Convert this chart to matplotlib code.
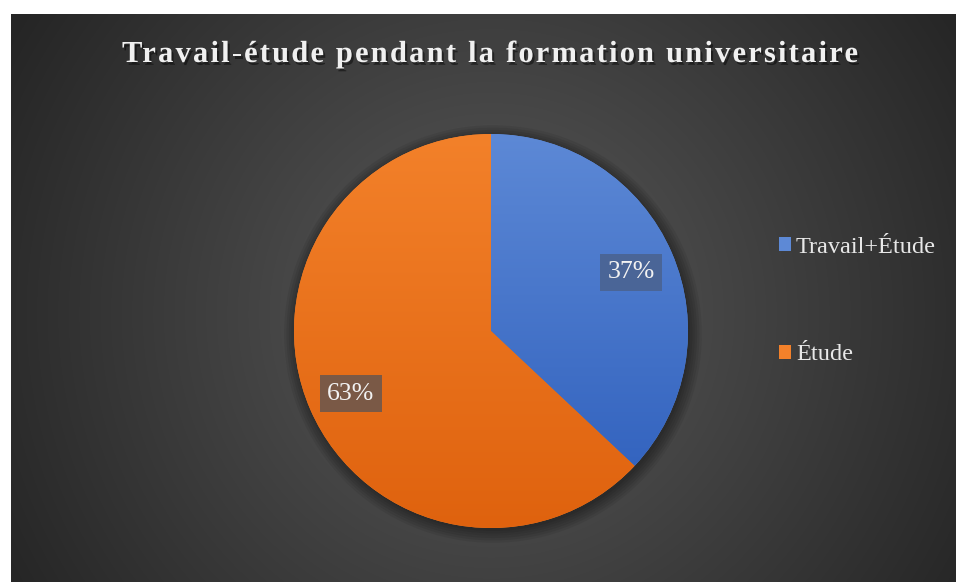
import numpy as np
import matplotlib
matplotlib.use("Agg")
import matplotlib.pyplot as plt
import matplotlib.patheffects as pe
from matplotlib.font_manager import FontProperties
from matplotlib.patches import Patch, Circle

title = "Travail-étude pendant la formation universitaire"
labels = ["Travail+Étude", "Étude"]
shares = [37, 63]
colors_top = ["#5d89d6", "#f3812a"]
colors_bot = ["#2c5dbb", "#df620e"]
box_colors = ["#4a6597", "#7a5946"]

W, H = 956, 582
fig = plt.figure(figsize=(W / 100, H / 100), dpi=100)
fig.patch.set_facecolor("white")

# dark radial background
bg = fig.add_axes([11 / W, 0, (W - 11) / W, (H - 14) / H])
bg.set_axis_off()
yy, xx = np.mgrid[0:568, 0:945]
cx, cy = 480, 300
r = np.sqrt((xx - cx) ** 2 + (yy - cy) ** 2) / 560.0
r = np.clip(r, 0, 1)
c0 = np.array([0x5a, 0x5a, 0x5a]) / 255
c1 = np.array([0x25, 0x25, 0x25]) / 255
img = c0[None, None, :] * (1 - r[..., None]) + c1[None, None, :] * r[..., None]
bg.imshow(img, aspect="auto", extent=[0, 1, 0, 1], origin="upper")
bg.set_xlim(0, 1)
bg.set_ylim(0, 1)

# pie axes
R = 197
pcx, pcy = 491, H - 331
ax = fig.add_axes([(pcx - R) / W, (pcy - R) / H, 2 * R / W, 2 * R / H])
ax.set_axis_off()

# soft shadow
for k in range(6):
    ax.add_patch(Circle((0.01, -0.015), 1 + 0.012 * k, color="black",
                        alpha=0.07, lw=0, zorder=0, clip_on=False))

wedges, _ = ax.pie(shares, startangle=90, counterclock=False,
                   colors=colors_top, wedgeprops=dict(linewidth=0))
for w, ct, cb in zip(wedges, colors_top, colors_bot):
    w.set_zorder(1)
    w.set_clip_on(False)
    t = np.linspace(0, 1, 256)[:, None]
    a = np.array(matplotlib.colors.to_rgb(ct))
    b = np.array(matplotlib.colors.to_rgb(cb))
    grad = a[None, None, :] * (1 - t[..., None]) + b[None, None, :] * t[..., None]
    grad = np.repeat(grad, 4, axis=1)
    im = ax.imshow(grad, extent=[-1.01, 1.01, -1.01, 1.01], aspect="auto",
                   zorder=2, origin="upper")
    im.set_clip_path(w)

# percentage labels
for w, s, bc in zip(wedges, shares, box_colors):
    mid = np.deg2rad((w.theta1 + w.theta2) / 2)
    x, y = 0.775 * np.cos(mid), 0.775 * np.sin(mid) - 0.01
    ax.text(x, y, f"{s}%", ha="center", va="center", fontsize=18.5,
            family="Liberation Serif", color="#f2f2f2", zorder=5,
            bbox=dict(boxstyle="square,pad=0.3", fc=bc, ec="none"))

ax.set_xlim(-1, 1)
ax.set_ylim(-1, 1)

# legend
handles = [Patch(facecolor=c, edgecolor="none") for c in colors_top]
fig.legend(handles, labels, loc="upper left",
           bbox_to_anchor=(779 / W, (H - 237) / H), frameon=False,
           prop=FontProperties(family="Liberation Serif", size=17.5),
           labelcolor="#e8e8e8", handlelength=0.5, handleheight=0.5,
           handletextpad=0.2, labelspacing=3.55, borderpad=0,
           borderaxespad=0)

# letter-spaced title with shadow
fp = FontProperties(family="Liberation Serif", weight="bold", size=22)
renderer = fig.canvas.get_renderer()


def tw(s):
    return renderer.get_text_width_height_descent(s, fp, ismath=False)[0]


n = len(title)
sp = (736 - tw(title)) / (n - 1)
left = 122
ty = H - 62
shadow = [pe.withSimplePatchShadow(offset=(1.5, -2), shadow_rgbFace="black",
                                   alpha=0.45)]
for i, ch in enumerate(title):
    if ch == " ":
        continue
    x = left + tw(title[:i + 1]) - tw(ch) + i * sp
    fig.text(x / W, ty / H, ch, fontproperties=fp, color="#f0f0f0",
             va="baseline", ha="left", path_effects=shadow)

fig.savefig("out.png", dpi=100, facecolor=fig.get_facecolor())
